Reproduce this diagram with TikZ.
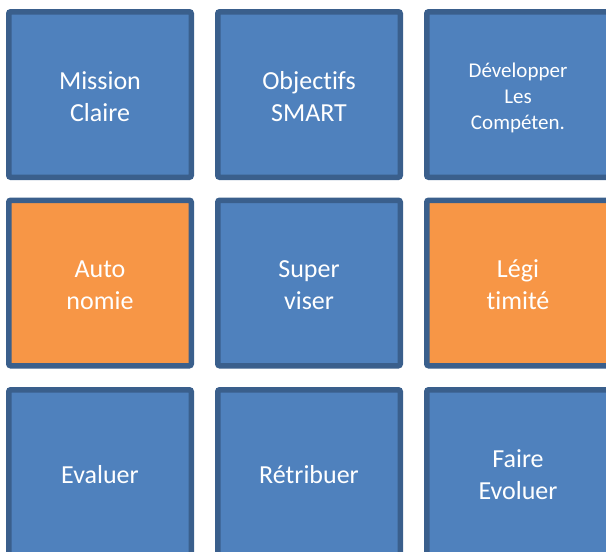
\documentclass[tikz,border=0pt]{standalone}
\usepackage{fontspec}
\setmainfont[Ligatures=CommonOff]{Carlito}
\definecolor{tileblue}{HTML}{4F81BD}
\definecolor{tileorange}{HTML}{F79646}
\definecolor{tileedge}{HTML}{3A5F8C}
\begin{document}
\begin{tikzpicture}[x=1pt,y=-1pt,
  tile/.style={draw=tileedge, line width=5.5pt, rounded corners=2pt,
    minimum width=182.5pt, minimum height=165.5pt, inner sep=0pt},
  bluetile/.style={tile, fill=tileblue},
  orangetile/.style={tile, fill=tileorange},
  tiletext/.style={text=white, align=center, inner sep=0pt, yshift=-2pt,
    font=\fontsize{26}{32}\selectfont},
  smalltext/.style={tiletext, yshift=-1pt, font=\fontsize{21}{26}\selectfont}]
\useasboundingbox (0,0) rectangle (606,552);
\node[bluetile] (m) at (100,94.5) {};
\node[bluetile] (o) at (309,94.5) {};
\node[bluetile] (d) at (518,94.5) {};
\node[orangetile] (a) at (100,283) {};
\node[bluetile] (s) at (309,283) {};
\node[orangetile] (l) at (518,283) {};
\node[bluetile] (e) at (100,472.5) {};
\node[bluetile] (r) at (309,472.5) {};
\node[bluetile] (f) at (518,472.5) {};
\node[tiletext] (mt) at (m.center) {Mission\\Claire};
\node[tiletext] (ot) at (o.center) {Objectifs\\SMART};
\node[smalltext] (dt) at (d.center) {Développer\\Les\\Compéten.};
\node[tiletext] (at) at (a.center) {Auto\\nomie};
\node[tiletext] (st) at (s.center) {Super\\viser};
\node[tiletext] (lt) at (l.center) {Légi\\timité};
\node[tiletext] (et) at (e.center) {Evaluer};
\node[tiletext] (rt) at (r.center) {Rétribuer};
\node[tiletext] (ft) at (f.center) {Faire\\Evoluer};
\end{tikzpicture}
\end{document}
